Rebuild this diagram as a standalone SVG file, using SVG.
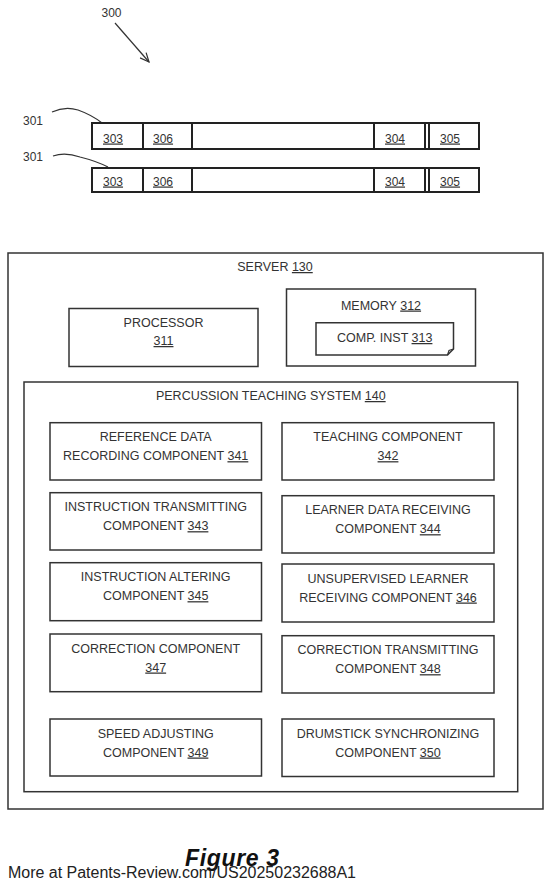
<svg xmlns="http://www.w3.org/2000/svg" width="548" height="888" viewBox="0 0 548 888">
<defs>
<style>
.t{font-family:"Liberation Sans",Arial,sans-serif;font-size:12.5px;fill:#333;text-anchor:middle}
.n{font-family:"Liberation Sans",Arial,sans-serif;font-size:12px;fill:#333}
.u{text-decoration:underline}
.box{fill:#fff;stroke:#333;stroke-width:1.5}
.bar{fill:#fff;stroke:#222;stroke-width:2}
.ln{fill:none;stroke:#333;stroke-width:1.2}
</style>
<marker id="ah" markerWidth="12" markerHeight="12" refX="10" refY="5" orient="auto" markerUnits="userSpaceOnUse">
<path d="M1,1 L10,5 L1,9" fill="none" stroke="#333" stroke-width="1.2"/>
</marker>
</defs>
<rect width="548" height="888" fill="#fff"/>

<g id="label300">
<text class="n" x="101.5" y="16.5">300</text>
</g>

<g id="connectors">
<line class="ln" x1="115" y1="23" x2="149" y2="62" marker-end="url(#ah)"/>
<path class="ln" d="M52,112 Q65,106 78,110 Q92,115 102,123"/>
<path class="ln" d="M53,156 Q65,152 80,157 Q96,161 108,167"/>
</g>

<g id="label301a"><text class="n" x="23" y="125">301</text></g>
<g id="label301b"><text class="n" x="23" y="161">301</text></g>

<g id="bar1">
<rect class="bar" x="92" y="123" width="387" height="26"/>
<line class="bar" x1="143" y1="123" x2="143" y2="149"/>
<line class="bar" x1="192" y1="123" x2="192" y2="149"/>
<line class="bar" x1="374" y1="123" x2="374" y2="149"/>
<line class="bar" x1="425" y1="123" x2="425" y2="149"/>
<line class="bar" x1="429" y1="123" x2="429" y2="149"/>
<text class="n u" x="103" y="142.5">303</text>
<text class="n u" x="153" y="142.5">306</text>
<text class="n u" x="385" y="142.5">304</text>
<text class="n u" x="440" y="142.5">305</text>
</g>

<g id="bar2">
<rect class="bar" x="92" y="168" width="387" height="24"/>
<line class="bar" x1="143" y1="168" x2="143" y2="192"/>
<line class="bar" x1="192" y1="168" x2="192" y2="192"/>
<line class="bar" x1="374" y1="168" x2="374" y2="192"/>
<line class="bar" x1="425" y1="168" x2="425" y2="192"/>
<line class="bar" x1="429" y1="168" x2="429" y2="192"/>
<text class="n u" x="103" y="185.5">303</text>
<text class="n u" x="153" y="185.5">306</text>
<text class="n u" x="385" y="185.5">304</text>
<text class="n u" x="440" y="185.5">305</text>
</g>

<g id="server">
<rect class="box" x="8" y="253" width="535" height="556"/>
<text class="t" x="275" y="271">SERVER  <tspan class="u">130</tspan></text>
</g>

<g id="processor">
<rect class="box" x="69" y="308.5" width="189" height="58"/>
<text class="t" x="163.5" y="327">PROCESSOR</text>
<text class="t" x="163.5" y="345"><tspan class="u">311</tspan></text>
</g>

<g id="memory">
<rect class="box" x="286.5" y="289" width="189" height="77"/>
<text class="t" x="381" y="309.5">MEMORY <tspan class="u">312</tspan></text>
</g>

<g id="compinst">
<path class="box" d="M316,322.7 H453.5 V349 L447.5,355 H316 Z"/>
<path class="ln" d="M447.5,355 L449,350.5 L453.5,349"/>
<text class="t" x="384.7" y="342">COMP. INST <tspan class="u">313</tspan></text>
</g>

<g id="pts">
<rect class="box" x="24" y="382" width="493.7" height="409.7"/>
<text class="t" x="270.8" y="400">PERCUSSION TEACHING SYSTEM <tspan class="u">140</tspan></text>
</g>

<g id="c341">
<rect class="box" x="50" y="422.7" width="211.5" height="57.3"/>
<text class="t" x="155.7" y="441.2">REFERENCE DATA</text>
<text class="t" x="155.7" y="460.2">RECORDING COMPONENT <tspan class="u">341</tspan></text>
</g>
<g id="c342">
<rect class="box" x="282" y="422.7" width="212" height="57.3"/>
<text class="t" x="388" y="441.2">TEACHING COMPONENT</text>
<text class="t" x="388" y="460.2"><tspan class="u">342</tspan></text>
</g>
<g id="c343">
<rect class="box" x="50" y="492.7" width="211.5" height="57.3"/>
<text class="t" x="155.7" y="511.2">INSTRUCTION TRANSMITTING</text>
<text class="t" x="155.7" y="530.2">COMPONENT <tspan class="u">343</tspan></text>
</g>
<g id="c344">
<rect class="box" x="282" y="495.7" width="212" height="57.3"/>
<text class="t" x="388" y="514.2">LEARNER DATA RECEIVING</text>
<text class="t" x="388" y="533.2">COMPONENT <tspan class="u">344</tspan></text>
</g>
<g id="c345">
<rect class="box" x="50" y="562.7" width="211.5" height="58"/>
<text class="t" x="155.7" y="581.2">INSTRUCTION ALTERING</text>
<text class="t" x="155.7" y="600.2">COMPONENT <tspan class="u">345</tspan></text>
</g>
<g id="c346">
<rect class="box" x="282" y="564" width="212" height="58"/>
<text class="t" x="388" y="582.5">UNSUPERVISED LEARNER</text>
<text class="t" x="388" y="601.5">RECEIVING COMPONENT <tspan class="u">346</tspan></text>
</g>
<g id="c347">
<rect class="box" x="50" y="634" width="211.5" height="57.7"/>
<text class="t" x="155.7" y="652.5">CORRECTION COMPONENT</text>
<text class="t" x="155.7" y="671.5"><tspan class="u">347</tspan></text>
</g>
<g id="c348">
<rect class="box" x="282" y="635.7" width="212" height="57.3"/>
<text class="t" x="388" y="654.2">CORRECTION TRANSMITTING</text>
<text class="t" x="388" y="673.2">COMPONENT <tspan class="u">348</tspan></text>
</g>
<g id="c349">
<rect class="box" x="50" y="719" width="211.5" height="57"/>
<text class="t" x="155.7" y="737.5">SPEED ADJUSTING</text>
<text class="t" x="155.7" y="756.5">COMPONENT <tspan class="u">349</tspan></text>
</g>
<g id="c350">
<rect class="box" x="282" y="719" width="212" height="57.5"/>
<text class="t" x="388" y="737.5">DRUMSTICK SYNCHRONIZING</text>
<text class="t" x="388" y="756.5">COMPONENT <tspan class="u">350</tspan></text>
</g>

<g id="caption">
<text x="232" y="866" font-family="Liberation Sans,Arial,sans-serif" font-size="23" font-weight="bold" font-style="italic" fill="#111" text-anchor="middle" textLength="94">Figure 3</text>
<text x="8" y="878" font-family="Liberation Sans,Arial,sans-serif" font-size="16" fill="#222" textLength="348">More at Patents-Review.com/US20250232688A1</text>
</g>
</svg>
